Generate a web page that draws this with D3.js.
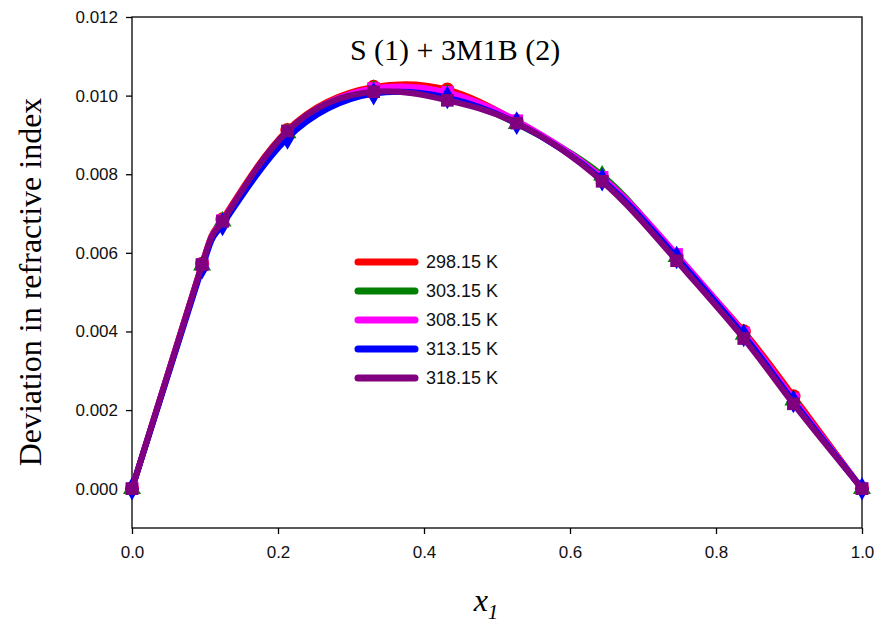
<!DOCTYPE html>
<html>
<head>
<meta charset="utf-8">
<script src="https://cdn.jsdelivr.net/npm/d3@7"></script>
<style>
  body { margin: 0; background: #fff; }
  text { font-family: Arial, "Liberation Sans", sans-serif; }
</style>
</head>
<body>
<svg width="877" height="634"></svg>
<script>
// mole fraction of component 1
var xValues = [0, 0.096, 0.124, 0.213, 0.331, 0.432, 0.527, 0.644, 0.746, 0.838, 0.906, 1.0];

var temps = ["298.15 K", "303.15 K", "308.15 K", "313.15 K", "318.15 K"];

var dn298 = [0, 0.00572, 0.00685, 0.00912, 0.01022, 0.01015, 0.00935, 0.00790, 0.00592, 0.00400, 0.00235, 0];
var dn303 = [0, 0.00568, 0.00680, 0.00905, 0.01015, 0.01005, 0.00928, 0.00797, 0.00590, 0.00392, 0.00225, 0];
var dn308 = [0, 0.00570, 0.00682, 0.00908, 0.01018, 0.01008, 0.00936, 0.00792, 0.00596, 0.00396, 0.00228, 0];
var dn313 = [0, 0.00562, 0.00672, 0.00892, 0.01005, 0.00995, 0.00930, 0.00786, 0.00588, 0.00390, 0.00222, 0];
var dn318 = [0, 0.00570, 0.00680, 0.00910, 0.01010, 0.00988, 0.00930, 0.00782, 0.00580, 0.00382, 0.00216, 0];

var xTicks = [0, 0.2, 0.4, 0.6, 0.8, 1.0];
var yTicks = [0, 0.002, 0.004, 0.006, 0.008, 0.010, 0.012];

var colors = ["#ff0000", "#007f00", "#ff00ff", "#0000ff", "#800080"];
var symbols = [d3.symbolCircle, d3.symbolTriangle, d3.symbolSquare, d3.symbolDiamond, d3.symbolSquare];

var series = [dn298, dn303, dn308, dn313, dn318].map(function(vals, i) {
  return {
    name: temps[i],
    color: colors[i],
    symbol: symbols[i],
    points: vals.map(function(v, j) { return { x: xValues[j], y: v }; })
  };
});

var svg = d3.select("svg");
var plotLeft = 132, plotRight = 862, plotTop = 17, plotBottom = 528;

var xScale = d3.scaleLinear().domain([0, 1]).range([plotLeft, plotRight]);
var yScale = d3.scaleLinear().domain([-0.001, 0.012]).range([plotBottom, plotTop]);

// frame
svg.append("rect")
  .attr("x", plotLeft).attr("y", plotTop)
  .attr("width", plotRight - plotLeft).attr("height", plotBottom - plotTop)
  .attr("fill", "none").attr("stroke", "#000").attr("stroke-width", 1.3);

var xAxis = d3.axisBottom(xScale).tickValues(xTicks).tickSize(6).tickFormat(d3.format(".1f"));
var yAxis = d3.axisLeft(yScale).tickValues(yTicks).tickSize(6).tickFormat(d3.format(".3f"));

var gx = svg.append("g")
  .attr("transform", "translate(0," + plotBottom + ")")
  .call(xAxis);
var gy = svg.append("g")
  .attr("transform", "translate(" + plotLeft + ",0)")
  .call(yAxis);

[gx, gy].forEach(function(g) {
  g.select(".domain").remove();
  g.selectAll(".tick line").attr("stroke", "#000").attr("stroke-width", 1.3);
  g.selectAll(".tick text")
    .style("font-family", "Arial, 'Liberation Sans', sans-serif")
    .style("font-size", "17px")
    .attr("fill", "#111");
});
gx.selectAll(".tick text").attr("dy", "1.25em");
gy.selectAll(".tick text").attr("x", -14);

var line = d3.line()
  .x(function(d) { return xScale(d.x); })
  .y(function(d) { return yScale(d.y); })
  .curve(d3.curveNatural);

var plot = svg.append("g");

series.forEach(function(s) {
  plot.append("path")
    .datum(s.points)
    .attr("d", line)
    .attr("fill", "none")
    .attr("stroke", s.color)
    .attr("stroke-width", 6)
    .attr("stroke-linejoin", "round");

  plot.selectAll(null)
    .data(s.points)
    .enter()
    .append("path")
      .attr("transform", function(d) {
        return "translate(" + xScale(d.x) + "," + yScale(d.y) + ")";
      })
      .attr("d", d3.symbol().type(s.symbol).size(s.symbol === d3.symbolTriangle ? 140 : 160))
      .attr("fill", s.color);
});

// legend
var legend = svg.append("g");
series.forEach(function(s, i) {
  var ly = 262 + i * 29;
  legend.append("line")
    .attr("x1", 358).attr("x2", 415)
    .attr("y1", ly).attr("y2", ly)
    .attr("stroke", s.color)
    .attr("stroke-width", 7)
    .attr("stroke-linecap", "round");
  legend.append("text")
    .text(s.name)
    .attr("x", 426).attr("y", ly + 6)
    .style("font-size", "18px")
    .attr("fill", "#111");
});

// title
svg.append("text")
  .text("S (1) + 3M1B (2)")
  .attr("x", 455).attr("y", 60)
  .attr("text-anchor", "middle")
  .style("font-family", "'Liberation Serif', 'Times New Roman', serif")
  .style("font-size", "30px");

// y label
svg.append("text")
  .text("Deviation in refractive index")
  .attr("transform", "translate(41,282) rotate(-90)")
  .attr("text-anchor", "middle")
  .style("font-family", "'Liberation Serif', 'Times New Roman', serif")
  .style("font-size", "32px");

// x label
var xl = svg.append("text")
  .attr("x", 486).attr("y", 611)
  .attr("text-anchor", "middle")
  .style("font-family", "'Liberation Serif', 'Times New Roman', serif")
  .style("font-style", "italic")
  .style("font-size", "32px");
xl.append("tspan").text("x");
xl.append("tspan").text("1").attr("dy", 8).style("font-size", "21px");
</script>
</body>
</html>
